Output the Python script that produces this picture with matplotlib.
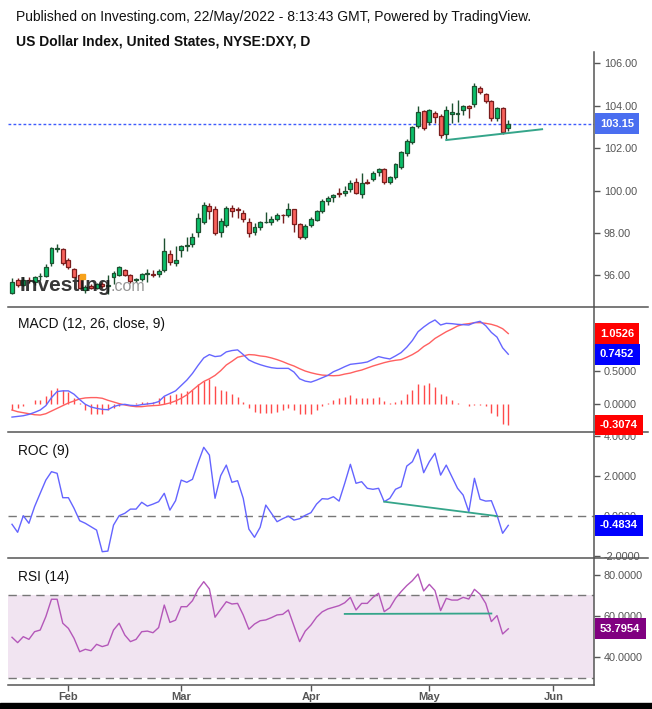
#!/usr/bin/env python3
''' US Dollar Index daily chart with MACD, ROC and RSI panels
'''

import numpy as np
import pandas as pd
import matplotlib
matplotlib.use('Agg')
from matplotlib import pyplot
from matplotlib.patches import Rectangle
from matplotlib.lines import Line2D
import matplotlib.transforms as mtransforms

#
# data
#

dates = pd.bdate_range('2022-01-18', '2022-05-20')

opens = [95.18, 95.78, 95.55, 95.80, 95.67, 95.95, 95.97, 96.57, 97.25, 97.23,
         96.71, 96.28, 96.00, 95.31, 95.50, 95.42, 95.60, 95.50, 95.93, 96.01,
         96.24, 96.00, 95.78, 95.81, 96.08, 96.07, 96.05, 96.24, 96.99, 96.57,
         97.19, 97.38, 97.46, 98.06, 98.53, 99.27, 99.11, 98.06, 98.36, 99.16,
         99.12, 98.92, 98.50, 98.03, 98.26, 98.50, 98.50, 98.64, 98.85, 98.83,
         99.11, 98.41, 97.82, 98.36, 98.59, 99.02, 99.49, 99.68, 99.88, 99.87,
         100.06, 100.39, 99.82, 100.42, 100.53, 100.86, 101.00, 100.39, 100.65, 101.12,
         101.75, 102.30, 103.06, 103.75, 103.25, 103.64, 103.51, 102.68, 103.60, 103.62,
         103.78, 103.97, 104.07, 104.82, 104.54, 104.22, 103.41, 103.88, 102.93]
highs = [95.85, 95.85, 95.90, 95.92, 95.98, 96.10, 96.53, 97.32, 97.46, 97.30,
         96.80, 96.35, 96.05, 95.55, 95.60, 95.65, 95.70, 96.00, 96.20, 96.45,
         96.30, 96.05, 95.85, 96.10, 96.30, 96.25, 96.30, 97.77, 97.20, 97.40,
         97.45, 97.80, 98.00, 98.92, 99.47, 99.40, 99.25, 98.70, 99.25, 99.30,
         99.24, 99.10, 98.70, 98.45, 98.55, 99.00, 98.80, 98.95, 98.90, 99.40,
         99.15, 98.45, 98.40, 98.75, 99.10, 99.60, 99.75, 99.85, 100.10, 100.21,
         100.50, 100.58, 100.81, 100.55, 100.90, 101.05, 101.05, 100.70, 101.30, 101.85,
         102.45, 103.05, 103.99, 103.80, 103.85, 103.75, 103.60, 103.99, 104.11, 104.27,
         104.05, 104.05, 105.06, 104.95, 104.62, 104.25, 103.95, 103.92, 103.33]
lows = [95.12, 95.45, 95.48, 95.62, 95.55, 95.80, 95.90, 96.45, 97.11, 96.50,
        96.30, 95.85, 95.35, 95.18, 95.35, 95.35, 95.40, 95.10, 95.60, 95.95,
        95.95, 95.65, 95.70, 95.75, 95.70, 95.90, 95.90, 96.15, 96.50, 96.45,
        96.85, 97.15, 97.35, 97.83, 98.40, 98.65, 97.90, 97.79, 98.30, 98.75,
        98.69, 98.50, 97.79, 97.90, 98.15, 98.45, 98.35, 98.55, 98.45, 98.75,
        98.05, 97.70, 97.70, 98.30, 98.55, 98.95, 99.30, 99.45, 99.70, 99.75,
        99.95, 99.85, 99.63, 100.30, 100.45, 100.70, 100.30, 100.30, 100.55, 101.00,
        101.65, 102.20, 102.95, 102.85, 103.10, 103.20, 102.50, 102.43, 103.20, 103.25,
        103.55, 103.43, 103.95, 104.55, 104.15, 103.30, 103.30, 102.65, 102.80]
closes = [95.70, 95.53, 95.76, 95.77, 95.91, 95.98, 96.38, 97.27, 97.28, 96.57,
          96.38, 95.93, 95.40, 95.46, 95.42, 95.58, 95.50, 95.52, 96.09, 96.38,
          96.00, 95.72, 95.81, 96.05, 96.10, 96.03, 96.20, 97.13, 96.61, 96.71,
          97.40, 97.41, 97.79, 98.69, 99.32, 99.05, 97.98, 98.56, 99.16, 99.02,
          99.08, 98.64, 97.98, 98.26, 98.50, 98.52, 98.64, 98.83, 98.83, 99.11,
          98.41, 97.79, 98.31, 98.64, 99.02, 99.49, 99.63, 99.79, 99.85, 99.98,
          100.34, 99.90, 100.34, 100.34, 100.81, 101.00, 100.42, 100.62, 101.24, 101.80,
          102.33, 102.98, 103.69, 102.94, 103.80, 103.48, 102.62, 103.80, 103.69, 103.65,
          103.99, 103.88, 104.93, 104.63, 104.24, 103.41, 103.88, 102.75, 103.15]

macd = [-0.19, -0.18, -0.17, -0.15, -0.12, -0.085, -0.02, 0.10, 0.19, 0.20,
        0.20, 0.15, 0.07, 0.00, -0.04, -0.06, -0.075, -0.08, -0.035, -0.01,
        0.00, -0.015, -0.02, -0.005, 0.005, 0.015, 0.04, 0.12, 0.16, 0.20,
        0.28, 0.36, 0.46, 0.58, 0.69, 0.74, 0.71, 0.72, 0.78, 0.80,
        0.81, 0.74, 0.66, 0.62, 0.59, 0.565, 0.545, 0.535, 0.535, 0.535,
        0.48, 0.38, 0.345, 0.33, 0.36, 0.395, 0.43, 0.485, 0.52, 0.56,
        0.595, 0.605, 0.615, 0.63, 0.67, 0.71, 0.69, 0.675, 0.72, 0.77,
        0.85, 0.95, 1.08, 1.15, 1.21, 1.255, 1.18, 1.205, 1.20, 1.19,
        1.185, 1.18, 1.215, 1.235, 1.17, 1.07, 1.00, 0.84, 0.7452]
signal = [-0.085, -0.11, -0.125, -0.14, -0.155, -0.16, -0.14, -0.10, -0.06, -0.02,
          0.02, 0.05, 0.08, 0.095, 0.10, 0.10, 0.09, 0.06, 0.035, 0.01,
          -0.01, -0.025, -0.035, -0.035, -0.025, -0.02, -0.015, 0.00, 0.02, 0.05,
          0.09, 0.14, 0.21, 0.28, 0.34, 0.38, 0.43, 0.50, 0.585, 0.64,
          0.70, 0.72, 0.74, 0.735, 0.72, 0.71, 0.69, 0.665, 0.635, 0.60,
          0.57, 0.53, 0.495, 0.47, 0.45, 0.435, 0.43, 0.425, 0.43, 0.45,
          0.465, 0.49, 0.51, 0.54, 0.57, 0.595, 0.62, 0.64, 0.655, 0.665,
          0.70, 0.74, 0.79, 0.86, 0.91, 0.98, 1.03, 1.08, 1.12, 1.165,
          1.19, 1.20, 1.215, 1.215, 1.205, 1.19, 1.165, 1.125, 1.0526]
hist = [-0.09, -0.05, -0.02, 0.00, 0.06, 0.07, 0.12, 0.21, 0.25, 0.21,
        0.19, 0.10, 0.02, -0.09, -0.14, -0.15, -0.14, -0.09, -0.05, -0.02,
        0.01, 0.01, 0.02, 0.03, 0.03, 0.03, 0.10, 0.12, 0.14, 0.15,
        0.17, 0.20, 0.22, 0.30, 0.35, 0.37, 0.27, 0.22, 0.20, 0.16,
        0.11, 0.04, -0.06, -0.12, -0.13, -0.13, -0.13, -0.11, -0.09, -0.06,
        -0.09, -0.15, -0.15, -0.14, -0.09, -0.02, 0.02, 0.06, 0.10, 0.11,
        0.14, 0.10, 0.10, 0.09, 0.10, 0.11, 0.05, 0.02, 0.04, 0.07,
        0.15, 0.22, 0.30, 0.28, 0.31, 0.26, 0.15, 0.12, 0.07, 0.02,
        0.00, -0.02, -0.005, -0.01, -0.02, -0.13, -0.17, -0.29, -0.3074]

roc = [-0.43, -0.83, 0.00, -0.38, 0.45, 1.12, 1.78, 2.20, 2.12, 0.90,
       0.90, 0.37, -0.25, -0.38, -0.55, -0.72, -1.80, -1.77, -0.47, 0.00,
       0.12, 0.33, 0.33, 0.67, 0.48, 0.58, 0.70, 1.12, 0.28, 0.75,
       1.78, 1.67, 1.82, 2.65, 3.42, 3.03, 0.87, 2.00, 2.53, 1.67,
       1.75, 0.87, -0.67, -1.08, -0.58, 0.53, 0.12, -0.30, -0.15, -0.02,
       -0.22, -0.15, 0.02, 0.15, 0.58, 0.85, 0.83, 0.95, 0.73, 1.62,
       2.57, 1.62, 1.70, 1.37, 1.32, 1.37, 0.70, 0.87, 1.32, 1.45,
       2.48, 2.70, 3.32, 2.15, 2.70, 3.12, 2.03, 2.53, 1.95, 1.37,
       1.03, 0.20, 1.87, 0.82, 0.73, 0.75, 0.03, -0.88, -0.4834]

rsi = [49.7, 47.1, 50.0, 48.7, 52.4, 53.2, 59.7, 68.1, 68.1, 56.5,
       54.0, 49.2, 42.7, 43.9, 43.2, 46.3, 45.2, 46.0, 53.2, 56.5,
       50.8, 47.6, 48.7, 52.4, 52.7, 51.9, 54.4, 65.3, 56.9, 58.0,
       64.5, 64.5, 67.4, 72.9, 76.6, 73.1, 59.4, 63.2, 66.9, 65.8,
       66.1, 60.5, 53.6, 56.1, 57.7, 58.1, 59.2, 60.5, 60.8, 62.9,
       55.2, 47.6, 52.7, 55.6, 59.4, 62.0, 63.4, 64.2, 65.0, 66.4,
       69.0, 62.9, 66.1, 66.1, 69.0, 71.0, 62.1, 64.0, 68.5, 71.8,
       74.7, 77.1, 80.3, 72.1, 75.3, 72.3, 62.6, 68.5, 67.7, 67.7,
       69.0, 68.2, 72.9, 70.5, 66.1, 57.3, 60.2, 51.3, 53.7954]

# drawn trend lines: (bar index, value) pairs
price_trend = ([77, 94], [102.38, 102.89])
roc_trend = ([66, 86], [0.70, -0.02])
rsi_trend = ([59, 85], [61.0, 61.2])

last_price = 103.15
price_ticks = [96, 98, 100, 102, 104, 106]
macd_ticks = [0.0, 0.5]
roc_ticks = [-2, 0, 2, 4]
rsi_ticks = [40, 60, 80]

#
# plot
#

pyplot.rcParams['font.family'] = ['Liberation Sans', 'DejaVu Sans']

W, H = 652, 709
fig = pyplot.figure(figsize=(W / 100, H / 100), dpi=100)

def panel(top, bottom, left=8, right=594):
    return [left / W, 1 - bottom / H, (right - left) / W, (bottom - top) / H]

ax_p = fig.add_axes(panel(52, 307))
ax_m = fig.add_axes(panel(307, 432), sharex=ax_p)
ax_r = fig.add_axes(panel(432, 558), sharex=ax_p)
ax_s = fig.add_axes(panel(558, 685), sharex=ax_p)
axes = [ax_p, ax_m, ax_r, ax_s]

x = np.arange(len(dates))
o, h, l, c = (np.array(v) for v in (opens, highs, lows, closes))
up = c >= o

grey = '#555555'
for ax in axes:
    for s in ['top', 'left', 'bottom']:
        ax.spines[s].set_visible(False)
    ax.spines['right'].set_color(grey)
    ax.spines['right'].set_linewidth(1.1)
    ax.yaxis.tick_right()
    ax.tick_params(axis='y', direction='out', length=4, width=1,
                   colors=grey, labelsize=7.8, pad=3)
    ax.tick_params(axis='x', length=0, labelbottom=False)
    ax.set_xlim(-0.71, 103.2)

# candles
wick_col = np.where(up, '#1d5130', '#7a1d1d')
ax_p.vlines(x, l, h, colors=wick_col, lw=1, zorder=2)
ax_p.bar(x, np.maximum(np.abs(c - o), 0.03), bottom=np.minimum(o, c),
         width=0.7, color=np.where(up, '#0bbf6a', '#f8625c'),
         edgecolor=wick_col, lw=0.9, zorder=3)
ax_p.axhline(last_price, color='#3d5afe', lw=1, ls=(0, (2, 1.6)), zorder=1)
ax_p.plot(*price_trend, color='#35a58a', lw=1.4, zorder=4)
ax_p.set_ylim(94.505, 106.533)
ax_p.set_yticks(price_ticks)
ax_p.set_yticklabels(['{:.2f}'.format(v) for v in price_ticks])

# MACD
ax_m.vlines(x, 0, hist, colors='#ff4a4a', lw=1)
ax_m.plot(x, signal, color='#ff6060', lw=1)
ax_m.plot(x, macd, color='#6666ff', lw=1)
ax_m.set_ylim(-0.412, 1.448)
ax_m.set_yticks(macd_ticks)
ax_m.set_yticklabels(['{:.4f}'.format(v) for v in macd_ticks])

# ROC
ax_r.axhline(0, color='#777777', lw=1, ls=(0, (6, 4)))
ax_r.plot(x, roc, color='#6464ff', lw=1)
ax_r.plot(*roc_trend, color='#35a58a', lw=1.3)
ax_r.set_ylim(-2.115, 4.185)
ax_r.set_yticks(roc_ticks)
ax_r.set_yticklabels(['{:.4f}'.format(v) for v in roc_ticks])

# RSI
ax_s.axhspan(30, 70, color='#f1e4f1', lw=0)
for lev in (30, 70):
    ax_s.axhline(lev, color='#777777', lw=1, ls=(0, (6, 4)))
ax_s.plot(x, rsi, color='#b457b9', lw=1)
ax_s.plot(*rsi_trend, color='#35a58a', lw=1.3)
ax_s.set_ylim(26.62, 88.05)
ax_s.set_yticks(rsi_ticks)
ax_s.set_yticklabels(['{:.4f}'.format(v) for v in rsi_ticks])

# month ticks on the bottom axis (future business days included)
all_days = pd.bdate_range(dates[0], '2022-06-30')
month_pos = [i for i in range(1, len(all_days))
             if all_days[i].month != all_days[i - 1].month]
ax_s.spines['bottom'].set_visible(True)
ax_s.spines['bottom'].set_color(grey)
ax_s.spines['bottom'].set_linewidth(1.1)
ax_s.set_xticks(month_pos)
ax_s.set_xticklabels([all_days[i].strftime('%b') for i in month_pos])
ax_s.tick_params(axis='x', length=4, width=1, colors=grey, labelbottom=True,
                 labelsize=8, pad=1)
for t in ax_s.get_xticklabels():
    t.set_fontweight('bold')

# panel separators
for yy in (307, 432, 558):
    fig.add_artist(Line2D([8 / W, 648 / W], [1 - yy / H, 1 - yy / H],
                          color=grey, lw=1.1))

# value boxes on the right axis
def value_box(ax, val, txt, col):
    tr = mtransforms.blended_transform_factory(fig.transFigure, ax.transData)
    fig.text(600 / W, val, txt, transform=tr, ha='left', va='center',
             color='white', fontsize=8, fontweight='bold', zorder=10,
             bbox=dict(boxstyle='square,pad=0.48', fc=col, ec='none'))

value_box(ax_p, last_price, '{:.2f}'.format(last_price), '#4a6ef0')
value_box(ax_m, signal[-1], '{:.4f}'.format(signal[-1]), '#ff0000')
value_box(ax_m, macd[-1], '{:.4f}'.format(macd[-1]), '#0000ff')
value_box(ax_m, hist[-1], '{:.4f}'.format(hist[-1]), '#ff0000')
value_box(ax_r, roc[-1], '{:.4f}'.format(roc[-1]), '#0000ff')
value_box(ax_s, rsi[-1], '{:.4f}'.format(rsi[-1]), '#800080')

# header and panel titles
fig.text(16 / W, 1 - 17 / H,
         'Published on Investing.com, 22/May/2022 - 8:13:43 GMT, Powered by TradingView.',
         fontsize=10, va='center', color='#111111')
fig.text(16 / W, 1 - 41 / H, 'US Dollar Index, United States, NYSE:DXY, D',
         fontsize=10, fontweight='bold', va='center', color='#111111')
fig.text(18 / W, 1 - 324 / H, 'MACD (12, 26, close, 9)', fontsize=9.9,
         va='center', color='#111111')
fig.text(18 / W, 1 - 451 / H, 'ROC (9)', fontsize=9.9, va='center', color='#111111')
fig.text(18 / W, 1 - 577 / H, 'RSI (14)', fontsize=9.9, va='center', color='#111111')

# watermark
fig.text(20 / W, 1 - 291 / H, 'Investing', fontsize=15, fontweight='bold',
         color='#151515', alpha=0.85, va='baseline', zorder=5)
fig.text(111 / W, 1 - 291 / H, '.com', fontsize=11.5, color='#8a8a8a',
         alpha=0.9, va='baseline', zorder=5)
fig.add_artist(Rectangle((80 / W, 1 - 279 / H), 5 / W, 5 / H,
                         color='#f7a21b', transform=fig.transFigure, zorder=6))

# bottom black band of the screenshot
fig.add_artist(Rectangle((0, 0), 1, 6 / H, color='black',
                         transform=fig.transFigure, zorder=6))

fig.savefig('out.png', dpi=100)
